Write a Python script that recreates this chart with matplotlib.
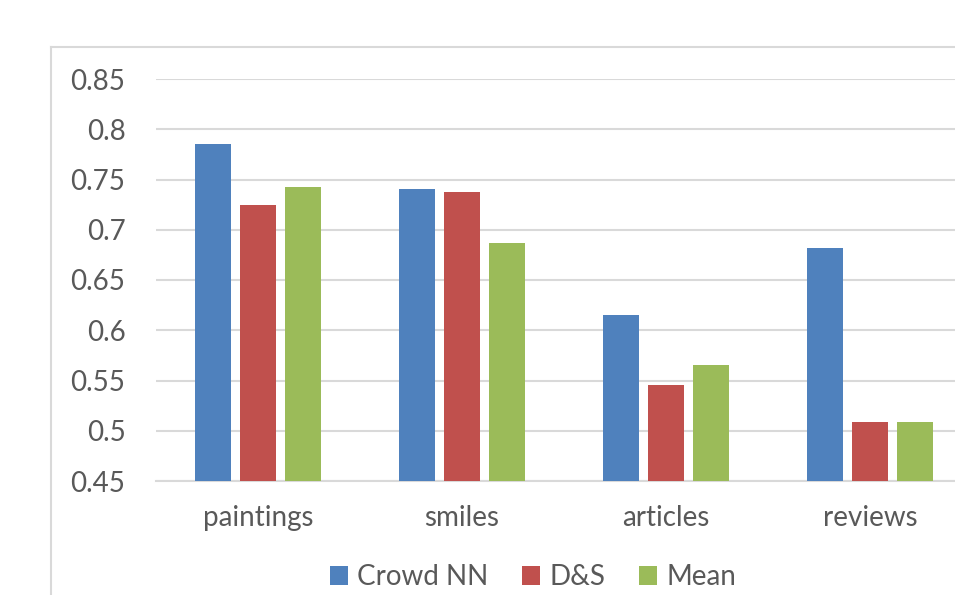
import matplotlib
matplotlib.use("Agg")
import matplotlib.pyplot as plt
from matplotlib.patches import Patch
from matplotlib.lines import Line2D
import numpy as np

plt.rcParams['font.family'] = ['Lato', 'DejaVu Sans']

categories = ["paintings", "smiles", "articles", "reviews"]
crowd_nn = [0.785, 0.741, 0.615, 0.682]
ds = [0.725, 0.738, 0.546, 0.509]
mean = [0.743, 0.687, 0.565, 0.509]
series_names = ["Crowd NN", "D&S", "Mean"]
yticks = [0.45, 0.5, 0.55, 0.6, 0.65, 0.7, 0.75, 0.8, 0.85]
ytick_labels = ["0.45", "0.5", "0.55", "0.6", "0.65", "0.7", "0.75", "0.8", "0.85"]

colors = ["#4f81bd", "#c0504d", "#9bbb59"]
grid_col = "#d9d9d9"
text_col = "#595959"

fig = plt.figure(figsize=(9.55, 5.95), dpi=100)
ax = fig.add_axes([156 / 955, 1 - 481 / 595, 816 / 955, (481 - 79) / 595])

x = np.arange(len(categories))
w = 0.18
step = 0.22
for i, (vals, c) in enumerate(zip([crowd_nn, ds, mean], colors)):
    ax.bar(x + (i - 1) * step, vals, width=w, color=c, zorder=3)

ax.set_xlim(-0.5, len(categories) - 0.5)
ax.set_ylim(0.45, 0.85)
ax.set_yticks(yticks)
ax.set_yticklabels(ytick_labels)
ax.set_xticks(x)
ax.set_xticklabels(categories)
ax.tick_params(axis="both", length=0, labelsize=20, colors=text_col)
ax.tick_params(axis="x", pad=17)
ax.tick_params(axis="y", pad=22)
ax.grid(axis="y", color=grid_col, linewidth=1.5, zorder=0)
ax.set_axisbelow(True)
for s in ["top", "right", "left"]:
    ax.spines[s].set_visible(False)
ax.spines["bottom"].set_color(grid_col)
ax.spines["bottom"].set_linewidth(1.5)

# chart frame, cut off at the right and bottom
fx = 51 / 955
fy = 1 - 47 / 595
fig.add_artist(Line2D([fx, fx], [0, fy], color=grid_col, linewidth=1.5))
fig.add_artist(Line2D([fx, 1], [fy, fy], color=grid_col, linewidth=1.5))

handles = [Patch(facecolor=c) for c in colors]
fig.legend(handles, series_names, loc="center", bbox_to_anchor=(533 / 955, 1 - 577 / 595),
           ncol=3, frameon=False, fontsize=20, labelcolor=text_col,
           handlelength=0.65, handleheight=0.65, handletextpad=0.35, columnspacing=1.2)

fig.savefig("out.png", dpi=100)
